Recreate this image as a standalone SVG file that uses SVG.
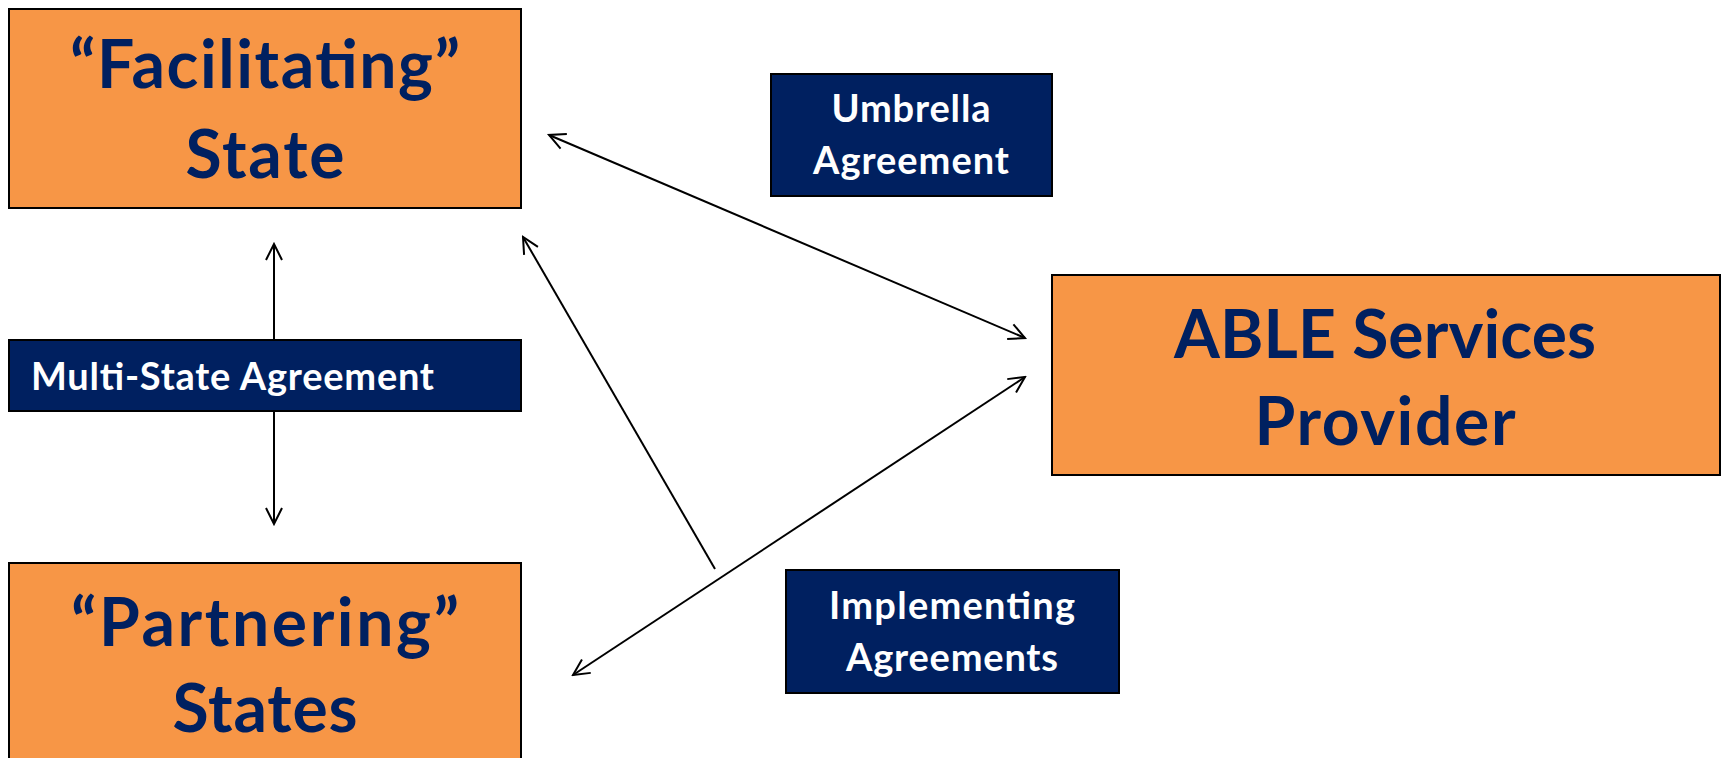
<svg xmlns="http://www.w3.org/2000/svg" width="1723" height="758" viewBox="0 0 1723 758">
<style>
.orange{fill:#F79646;stroke:#000;stroke-width:2}
.navy{fill:#002060;stroke:#000;stroke-width:2}
.big{font-family:Lato,"Open Sans","Liberation Sans",sans-serif;font-weight:bold;font-size:66px;fill:#002060;text-anchor:middle}
.small{font-family:Lato,"Open Sans","Liberation Sans",sans-serif;font-weight:bold;font-size:38px;fill:#fff;text-anchor:middle}
.conn{stroke:#000;stroke-width:2;fill:none}
</style>
<defs>
<marker id="arr" viewBox="0 0 20 20" refX="18" refY="10" markerWidth="20" markerHeight="20" markerUnits="userSpaceOnUse" orient="auto-start-reverse">
<path d="M2,2 L18,10 L2,18" fill="none" stroke="#000" stroke-width="2"/>
</marker>
</defs>
<rect width="1723" height="758" fill="#fff"/>
<g id="connectors">
<line class="conn" x1="274" y1="244" x2="274" y2="524" marker-start="url(#arr)" marker-end="url(#arr)"/>
<line class="conn" x1="549" y1="135" x2="1025" y2="338" marker-start="url(#arr)" marker-end="url(#arr)"/>
<line class="conn" x1="715" y1="569" x2="523" y2="237" marker-end="url(#arr)"/>
<line class="conn" x1="573" y1="675" x2="1025" y2="377" marker-start="url(#arr)" marker-end="url(#arr)"/>
</g>
<g id="facilitating">
<rect class="orange" x="9" y="9" width="512" height="199"/>
<text class="big" x="265" y="88" textLength="390">“Facilitating”</text>
<text class="big" x="265" y="178" textLength="159">State</text>
</g>
<g id="multistate">
<rect class="navy" x="9" y="340" width="512" height="71"/>
<text class="small" x="31" y="390" style="text-anchor:start" textLength="403">Multi-State Agreement</text>
</g>
<g id="partnering">
<rect class="orange" x="9" y="563" width="512" height="210"/>
<text class="big" x="265" y="646" textLength="388">“Partnering”</text>
<text class="big" x="265" y="732" textLength="185">States</text>
</g>
<g id="umbrella">
<rect class="navy" x="771" y="74" width="281" height="122"/>
<text class="small" x="911" y="122" textLength="159">Umbrella</text>
<text class="small" x="911" y="174" textLength="196">Agreement</text>
</g>
<g id="able">
<rect class="orange" x="1052" y="275" width="668" height="200"/>
<text class="big" x="1385" y="358" textLength="422">ABLE Services</text>
<text class="big" x="1385" y="445" textLength="261">Provider</text>
</g>
<g id="implementing">
<rect class="navy" x="786" y="570" width="333" height="123"/>
<text class="small" x="952" y="619" textLength="246">Implementing</text>
<text class="small" x="952" y="671" textLength="212">Agreements</text>
</g>
</svg>
